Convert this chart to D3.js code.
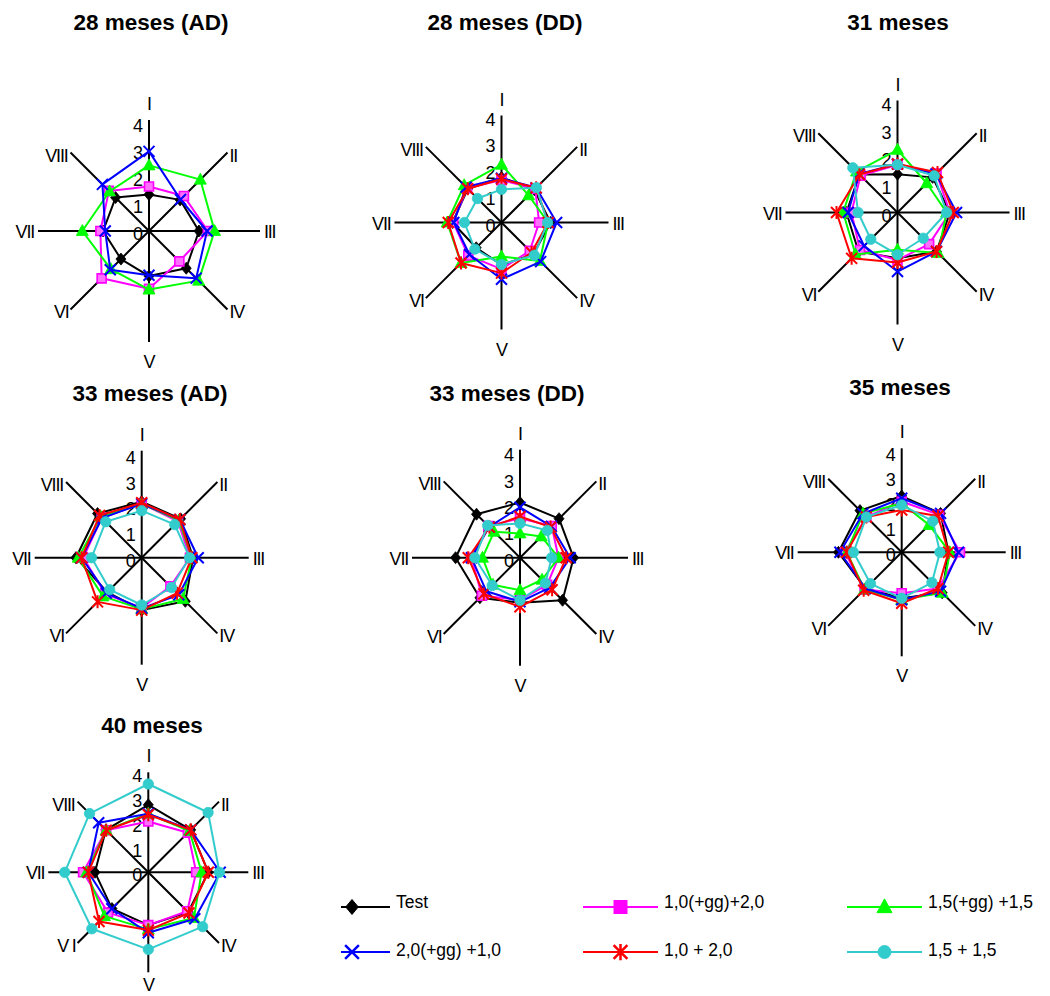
<!DOCTYPE html>
<html>
<head>
<meta charset="utf-8">
<script src="https://cdn.jsdelivr.net/npm/d3@7/dist/d3.min.js"></script>
<style>
  html, body { margin: 0; padding: 0; background: #fff; }
  svg text { font-family: "Liberation Sans", Arial, sans-serif; fill: #000; }
</style>
</head>
<body>
<svg id="chart" width="1050" height="996"></svg>
<script>
// Radar axes (clockwise from the top) and value ticks
const axisLabels = ["I", "II", "III", "IV", "V", "VI", "VII", "VIII"];
const tickValues = [0, 1, 2, 3, 4];

// Panel titles
const panelTitles = ["28 meses (AD)", "28 meses (DD)", "31 meses", "33 meses (AD)", "33 meses (DD)", "35 meses", "40 meses"];

// Series names (legend order)
const seriesNames = ["Test", "2,0(+gg) +1,0", "1,0(+gg)+2,0", "1,0 + 2,0", "1,5(+gg) +1,5", "1,5 + 1,5"];

// Scores per panel (rows) and axis I..VIII (columns)
const testValues = [
  [1.35, 1.63, 1.85, 1.95, 1.67, 1.47, 1.70, 1.75],
  [1.70, 1.75, 1.85, 1.70, 1.60, 1.35, 1.85, 1.80],
  [1.39, 1.80, 1.90, 2.00, 1.66, 2.00, 1.85, 1.95],
  [2.18, 2.14, 2.00, 2.40, 2.04, 1.90, 2.56, 2.43],
  [2.09, 2.09, 2.03, 2.28, 1.71, 2.15, 2.44, 2.33],
  [2.25, 2.20, 1.87, 2.29, 1.84, 2.05, 2.53, 2.36],
  [2.72, 2.42, 2.42, 2.27, 2.13, 2.07, 2.15, 2.42]
];
const gg20plus10Values = [
  [2.95, 1.65, 2.15, 2.47, 1.64, 2.03, 1.62, 2.44],
  [1.67, 1.85, 2.08, 2.09, 2.14, 1.71, 1.80, 1.89],
  [1.76, 1.97, 2.14, 2.00, 2.14, 1.71, 1.79, 1.97],
  [2.10, 2.10, 2.20, 2.04, 1.97, 1.95, 2.34, 2.18],
  [1.91, 1.68, 1.90, 1.60, 1.67, 1.80, 1.84, 1.65],
  [2.16, 2.20, 2.27, 2.20, 1.90, 2.05, 2.47, 2.19],
  [2.36, 2.42, 2.90, 2.65, 2.44, 2.08, 2.42, 2.83]
];
const gg10plus20Values = [
  [1.65, 1.83, 2.18, 1.59, 2.14, 2.48, 1.80, 2.10],
  [1.60, 1.80, 1.42, 1.51, 1.76, 1.77, 1.82, 1.84],
  [1.73, 2.00, 1.90, 1.62, 1.72, 1.92, 1.67, 1.89],
  [2.10, 2.00, 1.88, 1.58, 1.95, 2.00, 2.27, 2.20],
  [1.49, 1.70, 1.46, 1.45, 1.60, 2.04, 1.84, 1.70],
  [2.03, 2.12, 2.33, 2.05, 1.64, 2.10, 2.27, 2.00],
  [2.05, 2.26, 1.93, 2.22, 2.13, 2.30, 2.63, 2.40]
];
const plain10plus20Values = [
  null,
  [1.64, 1.85, 1.76, 1.60, 1.91, 2.16, 2.01, 1.80],
  [1.76, 2.05, 2.02, 2.00, 1.81, 2.35, 2.21, 1.95],
  [2.14, 2.10, 1.95, 1.95, 2.04, 2.43, 2.34, 2.32],
  [1.56, 1.64, 1.75, 1.72, 1.86, 1.94, 1.96, 1.64],
  [1.69, 2.05, 1.87, 2.05, 2.04, 2.15, 2.20, 2.00],
  [2.32, 2.42, 2.42, 2.32, 2.33, 2.81, 2.42, 2.40]
];
const gg15plus15Values = [
  [2.43, 2.69, 2.43, 2.60, 2.17, 2.00, 2.47, 2.07],
  [2.18, 1.45, 1.76, 2.05, 1.28, 2.16, 2.05, 1.99],
  [2.27, 1.50, 1.78, 2.08, 1.35, 2.15, 1.97, 2.10],
  [2.10, 2.05, 1.95, 2.27, 2.00, 2.13, 2.47, 2.25],
  [0.92, 1.14, 1.46, 1.18, 1.23, 1.45, 1.42, 1.39],
  [1.96, 1.55, 1.93, 2.29, 1.90, 2.10, 2.20, 2.19],
  [2.36, 2.35, 2.15, 2.60, 2.30, 2.50, 2.49, 2.40]
];
const plain15plus15Values = [
  null,
  [1.25, 1.86, 1.74, 1.75, 1.58, 1.42, 1.40, 1.28],
  [1.73, 1.88, 1.78, 1.32, 1.53, 1.37, 1.43, 2.29],
  [1.83, 1.82, 1.86, 1.64, 1.84, 1.76, 1.95, 1.98],
  [1.30, 1.46, 1.20, 1.36, 1.61, 1.49, 1.71, 1.73],
  [1.89, 1.76, 1.53, 1.71, 1.84, 1.77, 1.93, 2.00],
  [3.56, 3.41, 2.87, 3.10, 3.11, 3.22, 3.37, 3.35]
];

// Series styling, indexed like seriesNames
const seriesStyle = [
  { values: testValues,          color: "#000000", marker: "diamond" },
  { values: gg20plus10Values,    color: "#0000ff", marker: "cross" },
  { values: gg10plus20Values,    color: "#ff00ff", marker: "square" },
  { values: plain10plus20Values, color: "#ff0000", marker: "star" },
  { values: gg15plus15Values,    color: "#00ff00", marker: "triangle" },
  { values: plain15plus15Values, color: "#33cccc", marker: "circle" }
];
// Drawing order (bottom to top)
const drawOrder = [0, 2, 4, 1, 3, 5];

// Panel geometry: centre, pixel length of one unit, axis arm length, title position,
// gap below the arm for the bottom label
const panels = [
  { cx: 149,   cy: 231,   unit: 27.0, arm: 111, tx: 151, ty: 30,  vGap: 20 },
  { cx: 501.5, cy: 222.5, unit: 26.5, arm: 107, tx: 505, ty: 30,  vGap: 20 },
  { cx: 897.5, cy: 212.5, unit: 27.6, arm: 112, tx: 898, ty: 30,  vGap: 20 },
  { cx: 141.7, cy: 557.7, unit: 25.7, arm: 107, tx: 150, ty: 401, vGap: 20 },
  { cx: 520,   cy: 557.7, unit: 26.4, arm: 108, tx: 507, ty: 401, vGap: 20 },
  { cx: 901.7, cy: 552.3, unit: 25.0, arm: 104, tx: 900, ty: 395, vGap: 20 },
  { cx: 148.3, cy: 872.3, unit: 24.8, arm: 100, tx: 152, ty: 733, vGap: 13 }
];

const svg = d3.select("#chart");
svg.append("rect").attr("width", 1050).attr("height", 996).attr("fill", "#fff");

function markerPath(type) {
  switch (type) {
    case "diamond":  return "M0,-6L5,0L0,6L-5,0Z";
    case "square":   return "M-4.5,-4.5H4.5V4.5H-4.5Z";
    case "triangle": return "M0,-6.5L6,4.5L-6,4.5Z";
    case "cross":    return "M-5.5,-5.5L5.5,5.5M-5.5,5.5L5.5,-5.5";
    case "star":     return "M-5.5,-5.5L5.5,5.5M-5.5,5.5L5.5,-5.5M0,-6.5L0,6.5";
    default:         return null;
  }
}

function drawMarker(g, type, color, x, y) {
  if (type === "circle") {
    g.append("circle").attr("cx", x).attr("cy", y).attr("r", 5.2)
      .attr("fill", color).attr("stroke", color).attr("stroke-width", 0.8);
    return;
  }
  const p = g.append("path").attr("d", markerPath(type))
    .attr("transform", `translate(${x},${y})`);
  if (type === "cross" || type === "star") {
    p.attr("fill", "none").attr("stroke", color).attr("stroke-width", 2);
  } else if (type === "square") {
    p.attr("fill", "#ff70ff").attr("stroke", color).attr("stroke-width", 1.6);
  } else {
    p.attr("fill", color).attr("stroke", color).attr("stroke-width", 0.8);
  }
}

const angleScale = d3.scaleLinear().domain([0, axisLabels.length]).range([0, 2 * Math.PI]);

panels.forEach((pn, pi) => {
  const g = svg.append("g");
  const r = d3.scaleLinear().domain([0, 4]).range([0, 4 * pn.unit]);
  const pt = (i, v) => {
    const a = angleScale(i);
    return [pn.cx + Math.sin(a) * r(v), pn.cy - Math.cos(a) * r(v)];
  };

  // title
  g.append("text").attr("x", pn.tx).attr("y", pn.ty)
    .attr("text-anchor", "middle").attr("font-weight", "bold").attr("font-size", 22.5)
    .text(panelTitles[pi]);

  // axis arms
  axisLabels.forEach((lab, i) => {
    const a = angleScale(i);
    g.append("line")
      .attr("x1", pn.cx).attr("y1", pn.cy)
      .attr("x2", pn.cx + Math.sin(a) * pn.arm).attr("y2", pn.cy - Math.cos(a) * pn.arm)
      .attr("stroke", "#000").attr("stroke-width", 2);
  });

  // axis labels
  const d = pn.arm * Math.SQRT1_2;
  const labelPos = [
    { x: pn.cx,              y: pn.cy - pn.arm - 16,      anchor: "middle" },
    { x: pn.cx + d + 2,      y: pn.cy - d + 3,            anchor: "start" },
    { x: pn.cx + pn.arm + 4, y: pn.cy + 1,                anchor: "start" },
    { x: pn.cx + d + 2,      y: pn.cy + d + 3,            anchor: "start" },
    { x: pn.cx,              y: pn.cy + pn.arm + pn.vGap, anchor: "middle" },
    { x: pn.cx - d - 2,      y: pn.cy + d + 3,            anchor: "end" },
    { x: pn.cx - pn.arm - 4, y: pn.cy + 1,                anchor: "end" },
    { x: pn.cx - d - 3,      y: pn.cy - d + 3,            anchor: "end" }
  ];
  axisLabels.forEach((lab, i) => {
    const lp = labelPos[i];
    const txt = (pi === 6 && lab === "VI") ? "V I" : lab;
    g.append("text").attr("x", lp.x).attr("y", lp.y)
      .attr("text-anchor", lp.anchor).attr("dominant-baseline", "central")
      .attr("font-size", 18).attr("letter-spacing", -1.2)
      .text(txt);
  });

  // value ticks along axis I
  tickValues.forEach(t => {
    g.append("text").attr("x", pn.cx - 6).attr("y", pn.cy - r(t) + 3)
      .attr("text-anchor", "end").attr("dominant-baseline", "central")
      .attr("font-size", 18).text(t);
  });

  // series polygons and markers
  const line = d3.line().curve(d3.curveLinearClosed);
  drawOrder.forEach(si => {
    const s = seriesStyle[si];
    const vals = s.values[pi];
    if (!vals) return;
    const pts = vals.map((v, i) => pt(i, v));
    g.append("path").attr("d", line(pts))
      .attr("fill", "none").attr("stroke", s.color).attr("stroke-width", 2)
      .attr("stroke-linejoin", "round");
    pts.forEach(p => drawMarker(g, s.marker, s.color, p[0], p[1]));
  });
});

// legend: three columns, two rows
const legendCols = [341, 583, 847];
const legendRows = [907, 952];
const legendSlots = [
  { si: 0, col: 0, row: 0 },
  { si: 2, col: 1, row: 0 },
  { si: 4, col: 2, row: 0 },
  { si: 1, col: 0, row: 1 },
  { si: 3, col: 1, row: 1 },
  { si: 5, col: 2, row: 1 }
];
const legendLineLen = [49, 75, 75];
const legend = svg.append("g");
legendSlots.forEach(slot => {
  const s = seriesStyle[slot.si];
  const x0 = legendCols[slot.col];
  const y = legendRows[slot.row];
  const len = legendLineLen[slot.col];
  legend.append("line").attr("x1", x0).attr("x2", x0 + len)
    .attr("y1", y).attr("y2", y).attr("stroke", s.color).attr("stroke-width", 2);
  const mx = slot.col === 0 ? x0 + 11 : x0 + len / 2;
  if (s.marker === "square") {
    legend.append("rect").attr("x", mx - 7).attr("y", y - 7).attr("width", 14).attr("height", 14)
      .attr("fill", s.color);
  } else {
    const mg = legend.append("g").attr("transform", `translate(${mx},${y}) scale(1.25)`);
    drawMarker(mg, s.marker, s.color, 0, 0);
  }
  legend.append("text").attr("x", x0 + len + 6).attr("y", y - (slot.row === 0 ? 5 : 2))
    .attr("dominant-baseline", "central").attr("font-size", 17.5)
    .text(seriesNames[slot.si]);
});
</script>
</body>
</html>
